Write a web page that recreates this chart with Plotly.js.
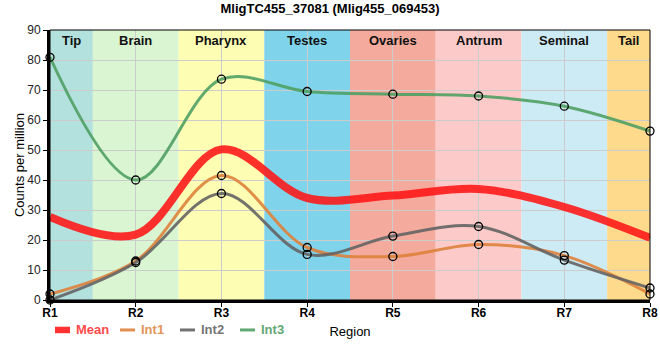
<!DOCTYPE html>
<html>
<head>
<meta charset="utf-8">
<script src="https://cdn.plot.ly/plotly-3.0.1.min.js"></script>
<style>html,body{margin:0;padding:0;background:#fff;}#chart{width:660px;height:360px;}</style>
</head>
<body>
<div id="chart"></div>
<script>
const regions = ['R1','R2','R3','R4','R5','R6','R7','R8'];
const meanVals = [27.7, 21.8, 50.2, 34.0, 34.8, 37.0, 31.0, 20.7];
const int1Vals = [2.0, 13.0, 41.5, 17.5, 14.5, 18.5, 14.8, 2.0];
const int2Vals = [0.0, 12.5, 35.5, 15.2, 21.3, 24.5, 13.3, 4.0];
const int3Vals = [80.9, 40.0, 73.6, 69.5, 68.6, 68.0, 64.6, 56.3];
const seriesNames = ['Mean','Int1','Int2','Int3'];
const tissues = ['Tip','Brain','Pharynx','Testes','Ovaries','Antrum','Seminal','Tail'];
const tissueColors = ['#b3e1dd','#d9f5d1','#fdfdb4','#7fd4eb','#f4aa9c','#fdcaca','#cdebf4','#fdda8c'];
const tissueStart = [0, 0.5, 1.5, 2.5, 3.5, 4.5, 5.5, 6.5];
const tissueEnd = [0.5, 1.5, 2.5, 3.5, 4.5, 5.5, 6.5, 7];

const xIdx = regions.map((r, i) => i);
const FONT = 'Liberation Sans, Arial, sans-serif';
const SM = 1.0;

const lineColors = ['rgba(255,20,20,0.88)', 'rgba(222,130,60,0.9)', 'rgba(100,100,100,0.9)', 'rgba(80,160,100,0.9)'];
const textColors = ['#ff4a4a', '#e39558', '#767676', '#62a874'];
const widths = [8, 3, 3, 3];
const allVals = [meanVals, int1Vals, int2Vals, int3Vals];

const traces = [];
allVals.forEach((vals, k) => {
  traces.push({x: xIdx, y: vals, type: 'scatter', mode: 'lines', name: seriesNames[k], showlegend: false,
    line: {color: lineColors[k], width: widths[k], shape: 'spline', smoothing: SM}, hoverinfo: 'skip'});
});
[int1Vals, int2Vals, int3Vals].forEach((vals, k) => {
  traces.push({x: xIdx, y: vals, type: 'scatter', mode: 'markers', showlegend: false, name: seriesNames[k + 1] + ' points',
    marker: {symbol: 'circle-open', size: 8, color: '#000', line: {width: 1.3, color: '#000'}}, hoverinfo: 'skip', cliponaxis: false});
});

const shapes = tissues.map((t, i) => ({type: 'rect', xref: 'x', yref: 'paper', x0: tissueStart[i], x1: tissueEnd[i], y0: 0, y1: 1,
  fillcolor: tissueColors[i], line: {width: 0}, layer: 'below'}));
shapes.push({type: 'rect', xref: 'paper', yref: 'paper', x0: 0, x1: 1, y0: 0, y1: 1, line: {color: '#000', width: 1}, fillcolor: 'rgba(0,0,0,0)'});

const annotations = tissues.map((t, i) => ({x: (tissueStart[i] + tissueEnd[i]) / 2, y: 1, xref: 'x', yref: 'paper', yanchor: 'top', yshift: -1,
  text: '<b>' + t + '</b>', showarrow: false, font: {family: FONT, size: 13, color: '#111'}}));

// custom legend (short symbols, coloured labels)
const legY = -0.111;
const legSym = [[0.0083, 0.0333], [0.1167, 0.1417], [0.2167, 0.2417], [0.3167, 0.3417]];
const legTxt = [0.040, 0.1483, 0.2483, 0.3483];
seriesNames.forEach((n, k) => {
  if (k === 0) {
    shapes.push({type: 'rect', xref: 'paper', yref: 'paper', x0: legSym[k][0], x1: legSym[k][1], y0: legY - 0.012, y1: legY + 0.012,
      fillcolor: lineColors[k], line: {width: 0}});
  } else {
    shapes.push({type: 'line', xref: 'paper', yref: 'paper', x0: legSym[k][0], x1: legSym[k][1], y0: legY, y1: legY,
      line: {color: lineColors[k], width: 3}});
  }
  annotations.push({x: legTxt[k], y: legY, xref: 'paper', yref: 'paper', xanchor: 'left', yanchor: 'middle',
    text: '<b>' + n + '</b>', showarrow: false, font: {family: FONT, size: 13, color: textColors[k]}});
});

const layout = {
  width: 660, height: 360,
  margin: {l: 50, r: 10, t: 30, b: 60},
  paper_bgcolor: '#fff', plot_bgcolor: '#fff',
  title: {text: '<b>MligTC455_37081 (Mlig455_069453)</b>', x: 0.5, xanchor: 'center', y: 0.99, yanchor: 'top', font: {family: FONT, size: 13, color: '#000'}},
  xaxis: {range: [0, 7], tickmode: 'array', tickvals: xIdx, ticktext: regions.map(r => '<b>' + r + '</b>'),
    showgrid: true, gridcolor: '#cccccc', gridwidth: 1, zeroline: false, showline: true, linecolor: '#000', linewidth: 3,
    ticks: 'outside', ticklen: 4, tickcolor: '#000', ticklabelstandoff: -4, tickfont: {family: FONT, size: 12, color: '#000'},
    title: {text: 'Region', font: {family: FONT, size: 13, color: '#000'}, standoff: 8}, fixedrange: true},
  yaxis: {range: [0, 90], dtick: 10, showgrid: true, gridcolor: '#cccccc', gridwidth: 1, zeroline: false,
    showline: true, linecolor: '#000', linewidth: 3, ticks: 'outside', ticklen: 4, tickcolor: '#000',
    tickfont: {family: FONT, size: 12, color: '#222'},
    title: {text: 'Counts per million', font: {family: FONT, size: 13, color: '#000'}, standoff: 0}, fixedrange: true},
  shapes: shapes,
  annotations: annotations,
  showlegend: false
};

Plotly.newPlot('chart', traces, layout, {displayModeBar: false, staticPlot: true});
</script>
</body>
</html>
